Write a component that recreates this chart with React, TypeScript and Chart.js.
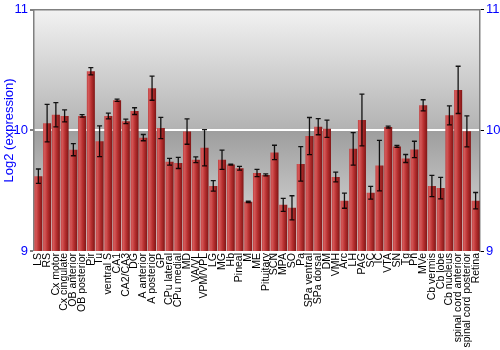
import React, { useEffect, useRef } from "react";
import { Chart, registerables } from "chart.js";

Chart.register(...registerables);

const labels = [
  "LS", "RS", "Cx motor", "Cx cingulate", "OB anterior", "OB posterior", "Pir", "Tu",
  "ventral S", "CA1", "CA2/CA3", "DG", "A anterior", "A posterior", "GP", "CPu lateral",
  "CPu medial", "MD", "VA/VL", "VPM/VPL", "LG", "MG", "Hb", "Pineal", "M", "ME",
  "Pituitary", "SCN", "MPA", "SO", "Pa", "SPa ventral", "SPa dorsal", "DM", "VMH",
  "Arc", "LH", "PAG", "SC", "IC", "VTA", "SN", "Tg", "Pn", "MVe", "Cb vermis",
  "Cb lobe", "Cb nucleus", "spinal cord anterior", "spinal cord posterior", "Retina",
];

const values = [
  9.62, 10.06, 10.13, 10.12, 9.84, 10.12, 10.49, 9.91,
  10.12, 10.25, 10.075, 10.16, 9.94, 10.35, 10.02, 9.74,
  9.73, 9.99, 9.756, 9.856, 9.54, 9.756, 9.717, 9.686, 9.408, 9.647,
  9.631, 9.817, 9.383, 9.358, 9.722, 9.953, 10.031, 10.014, 9.614,
  9.417, 9.847, 10.086, 9.483, 9.708, 10.028, 9.867, 9.767, 9.842, 10.208, 9.539,
  9.522, 10.125, 10.336, 9.992, 9.417,
];

const errors = [
  0.06, 0.155, 0.1, 0.05, 0.05, 0.01, 0.03, 0.127,
  0.024, 0.01, 0.018, 0.028, 0.026, 0.1, 0.088, 0.028,
  0.046, 0.105, 0.024, 0.15, 0.043, 0.08, 0.004, 0.015, 0.006, 0.03,
  0.008, 0.06, 0.054, 0.1, 0.143, 0.154, 0.067, 0.072, 0.04,
  0.0625, 0.135, 0.215, 0.053, 0.21, 0.008, 0.008, 0.033, 0.068, 0.046, 0.0875,
  0.089, 0.079, 0.196, 0.128, 0.068,
];

const yTicks = [9, 10, 11];

const FONT = "'Liberation Sans', Arial, sans-serif";
const CAT_PCT = 0.92;

const bgPlugin = {
  id: "bgPlugin",
  beforeDraw(chart: any) {
    const { ctx, chartArea, width, height } = chart;
    ctx.save();
    ctx.fillStyle = "#ffffff";
    ctx.fillRect(0, 0, width, height);
    if (chartArea) {
      const y = chart.scales.y;
      const top = chartArea.top;
      const bottom = chartArea.bottom;
      const p10 = y.getPixelForValue(10);
      const f = (p10 - top) / (bottom - top);
      const g = ctx.createLinearGradient(0, top, 0, bottom);
      g.addColorStop(0, "#f2f2f2");
      g.addColorStop(Math.max(0, f - 0.001), "#b2b2b2");
      g.addColorStop(Math.min(1, f + 0.001), "#9e9e9e");
      g.addColorStop(1, "#e0e0e0");
      ctx.fillStyle = g;
      ctx.fillRect(chartArea.left, top, chartArea.right - chartArea.left, bottom - top);
    }
    ctx.restore();
  },
  afterDraw(chart: any) {
    const { ctx, chartArea } = chart;
    ctx.save();
    ctx.strokeStyle = "#808080";
    ctx.lineWidth = 1.5;
    ctx.beginPath();
    ctx.moveTo(chartArea.left, chartArea.top);
    ctx.lineTo(chartArea.right, chartArea.top);
    ctx.stroke();
    ctx.restore();
  },
};

const errorBarPlugin = {
  id: "errorBarPlugin",
  afterDatasetsDraw(chart: any) {
    const { ctx } = chart;
    const y = chart.scales.y;
    const meta = chart.getDatasetMeta(0);
    ctx.save();
    ctx.strokeStyle = "rgba(0,0,0,0.9)";
    ctx.lineWidth = 1.3;
    meta.data.forEach((bar: any, i: number) => {
      const x = bar.x;
      const hi = y.getPixelForValue(values[i] + errors[i]);
      const lo = y.getPixelForValue(values[i] - errors[i]);
      ctx.beginPath();
      ctx.moveTo(x, hi);
      ctx.lineTo(x, lo);
      ctx.moveTo(x - 2.5, hi);
      ctx.lineTo(x + 2.5, hi);
      ctx.moveTo(x - 2.5, lo);
      ctx.lineTo(x + 2.5, lo);
      ctx.stroke();
    });
    ctx.restore();
  },
};

export default function App() {
  const ref = useRef<HTMLCanvasElement>(null);

  useEffect(() => {
    if (!ref.current) return;
    const barColor = (c: any) => {
      const chart = c.chart;
      const xs = chart.scales && chart.scales.x;
      if (!xs || c.type !== "data" || !chart.chartArea) return "#b83232";
      const cx = xs.getPixelForValue(c.dataIndex);
      const w = ((xs.right - xs.left) / labels.length) * CAT_PCT;
      const g = chart.ctx.createLinearGradient(cx - w / 2, 0, cx + w / 2, 0);
      g.addColorStop(0, "#c04040");
      g.addColorStop(0.2, "#d45858");
      g.addColorStop(0.55, "#b83030");
      g.addColorStop(1, "#801515");
      return g;
    };
    const tickCfg = {
      color: "#0000ff",
      font: { family: FONT, size: 13 },
      padding: 2,
      autoSkip: false,
    };
    const chart = new Chart(ref.current, {
      type: "bar",
      data: {
        labels,
        datasets: [
          {
            data: values,
            backgroundColor: barColor,
            borderWidth: 0,
            categoryPercentage: CAT_PCT,
            barPercentage: 1,
          },
        ],
      },
      options: {
        animation: false,
        responsive: false,
        devicePixelRatio: 1,
        layout: { padding: { top: 9, left: 0, right: 0, bottom: 0 } },
        plugins: {
          legend: { display: false },
          tooltip: { enabled: false },
        },
        scales: {
          x: {
            grid: { display: false, drawTicks: false },
            border: { display: false },
            ticks: {
              autoSkip: false,
              minRotation: 90,
              maxRotation: 90,
              color: "#000000",
              font: { family: FONT, size: 10.5 },
              padding: 2,
            },
            afterFit: (s: any) => {
              s.height = 99;
            },
          },
          y: {
            position: "left",
            min: 9,
            max: 11,
            afterBuildTicks: (s: any) => {
              s.ticks = yTicks.map((v) => ({ value: v }));
            },
            ticks: tickCfg,
            grid: {
              color: (c: any) => (c.tick && c.tick.value === 10 ? "#ffffff" : "rgba(0,0,0,0)"),
              lineWidth: (c: any) => (c.tick && c.tick.value === 10 ? 2 : 0),
              tickColor: "#000000",
              tickWidth: 1,
              tickLength: 4,
              drawOnChartArea: true,
            },
            border: { color: "#808080", width: 1.5 },
            title: {
              display: true,
              text: "Log2 (expression)",
              color: "#0000ff",
              font: { family: FONT, size: 13 },
              padding: { top: 2, bottom: 0 },
            },
            afterFit: (s: any) => {
              s.width = 34;
            },
          },
          y2: {
            position: "right",
            min: 9,
            max: 11,
            afterBuildTicks: (s: any) => {
              s.ticks = yTicks.map((v) => ({ value: v }));
            },
            ticks: tickCfg,
            grid: {
              drawOnChartArea: false,
              tickColor: "#000000",
              tickWidth: 1,
              tickLength: 4,
            },
            border: { color: "#808080", width: 1.5 },
            afterFit: (s: any) => {
              s.width = 20;
            },
          },
        },
      } as any,
      plugins: [bgPlugin, errorBarPlugin],
    });
    return () => chart.destroy();
  }, []);

  return (
    <div style={{ position: "fixed", left: 0, top: 0, width: 500, height: 350 }}>
      <canvas ref={ref} width={500} height={350} style={{ width: 500, height: 350 }} />
    </div>
  );
}
